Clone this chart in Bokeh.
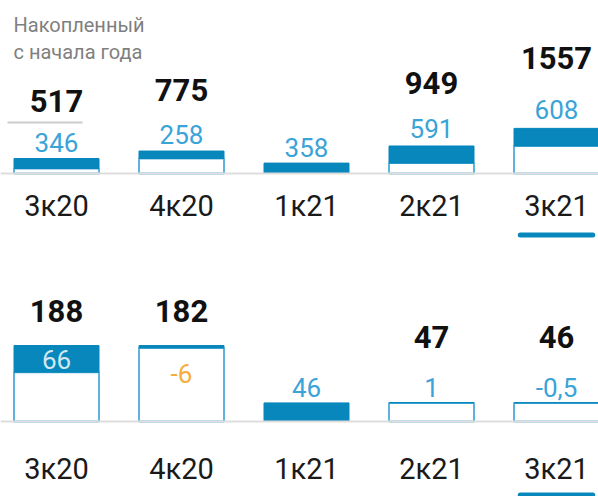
from bokeh.plotting import figure
from bokeh.layouts import column
from bokeh.models import Range1d, Span
from bokeh.core.properties import value
from bokeh.embed import file_html
from bokeh.resources import INLINE

# ---- data ----
categories = ["3к20", "4к20", "1к21", "2к21", "3к21"]
ytd_total = [517, 775, 358, 949, 1557]
ytd_change = [346, 258, 358, 591, 608]
ytd_total_labels = ["517", "775", "", "949", "1557"]
ytd_change_labels = ["346", "258", "358", "591", "608"]

q_total = [188, 182, 46, 47, 46]
q_change = [66, -6, 46, 1, -0.5]
q_total_labels = ["188", "182", "", "47", "46"]
q_change_labels = ["66", "-6", "46", "1", "-0,5"]

highlight = "3к21"
title_lines = ["Накопленный", "с начала года"]

# ---- style ----
FONT = "Roboto"
BLUE = "#0787bb"
EDGE = "#5fb3dc"
LBL_BLUE = "#3aa3d8"
LBL_LIGHT = "#cfe8f2"
ORANGE = "#f7ad3c"
GRID = "#dddddd"
W = 598
STEP = 125.0
X0 = -56 / STEP
HALF = 42.5 / STEP


def make_panel(total, change, total_lbls, change_lbls, height, below, upp,
               cat_gap, ul_gap, is_ytd):
    p = figure(width=W, height=height, output_backend="svg", toolbar_location=None,
               x_axis_type=None, y_axis_type=None, min_border=0,
               x_range=Range1d(X0, X0 + W / STEP),
               y_range=Range1d(-below * upp, (height - below) * upp))
    p.outline_line_color = None
    p.background_fill_color = "white"
    p.border_fill_color = "white"

    xs = list(range(len(categories)))
    prev = [t - c for t, c in zip(total, change)]
    lo = [min(a, b) for a, b in zip(prev, total)]
    hi = [max(a, b) for a, b in zip(prev, total)]

    bx = [i for i in xs if lo[i] > 0]
    p.quad(left=[i - HALF for i in bx], right=[i + HALF for i in bx],
           bottom=[0] * len(bx), top=[lo[i] for i in bx],
           fill_color="white", line_color=EDGE, line_width=2)
    p.quad(left=[i - HALF for i in xs], right=[i + HALF for i in xs],
           bottom=lo, top=hi, fill_color=BLUE, line_color=BLUE, line_width=1)

    p.add_layout(Span(location=0, dimension="width", line_color=GRID, line_width=2))

    cx, cy, ct, cc = [], [], [], []
    tx, ty, tt = [], [], []
    for i in xs:
        top_px = hi[i] / upp
        if is_ytd:
            y = top_px + 14.5 + 0.1 * top_px
            col = LBL_BLUE
            tot_y = top_px + 52 + 0.4 * top_px
        elif top_px > 50:
            if change[i] >= 0:
                y = top_px - 13.5
                col = LBL_LIGHT
            else:
                y = top_px - 28
                col = ORANGE
            tot_y = top_px + 35
        else:
            y = top_px + 15
            col = LBL_BLUE
            tot_y = top_px + 66
        cx.append(i); cy.append(y * upp); ct.append(change_lbls[i]); cc.append(col)
        if total_lbls[i]:
            tx.append(i); ty.append(tot_y * upp); tt.append(total_lbls[i])

    p.text(x=cx, y=cy, text=ct, text_color=cc, text_align="center",
           text_baseline="middle", text_font=value(FONT),
           text_font_size=value("26px"))
    p.text(x=tx, y=ty, text=tt, text_color="#111111", text_align="center",
           text_baseline="middle", text_font=value(FONT),
           text_font_size=value("31px"), text_font_style="bold")

    p.text(x=xs, y=[-cat_gap * upp] * len(xs), text=categories, text_color="#1a1a1a",
           text_align="center", text_baseline="middle", text_font=value(FONT),
           text_font_size=value("29px"))

    hi_i = categories.index(highlight)
    p.segment(x0=[hi_i - 0.29], x1=[hi_i + 0.29], y0=[-ul_gap * upp], y1=[-ul_gap * upp],
              line_color=BLUE, line_width=5, line_cap="round")

    if is_ytd:
        base_from_top = height - below
        p.text(x=[X0 + 13 / STEP] * 2,
               y=[(base_from_top - 24) * upp, (base_from_top - 51) * upp],
               text=title_lines, text_color="#7f7f7f", text_align="left",
               text_baseline="middle", text_font=value(FONT),
               text_font_size=value("20px"))
        sep_y = (hi[0] / upp + 36) * upp
        p.segment(x0=[-49 / STEP], x1=[26 / STEP], y0=[sep_y], y1=[sep_y],
                  line_color="#cccccc", line_width=2)
    return p


top = make_panel(ytd_total, ytd_change, ytd_total_labels, ytd_change_labels,
                 height=250, below=77, upp=34.5, cat_gap=32, ul_gap=61.5, is_ytd=True)
bottom = make_panel(q_total, q_change, q_total_labels, q_change_labels,
                    height=246, below=75, upp=2.475, cat_gap=47.5, ul_gap=73.5,
                    is_ytd=False)

layout = column(top, bottom, spacing=0)
open("out.html", "w").write(file_html(layout, INLINE))
